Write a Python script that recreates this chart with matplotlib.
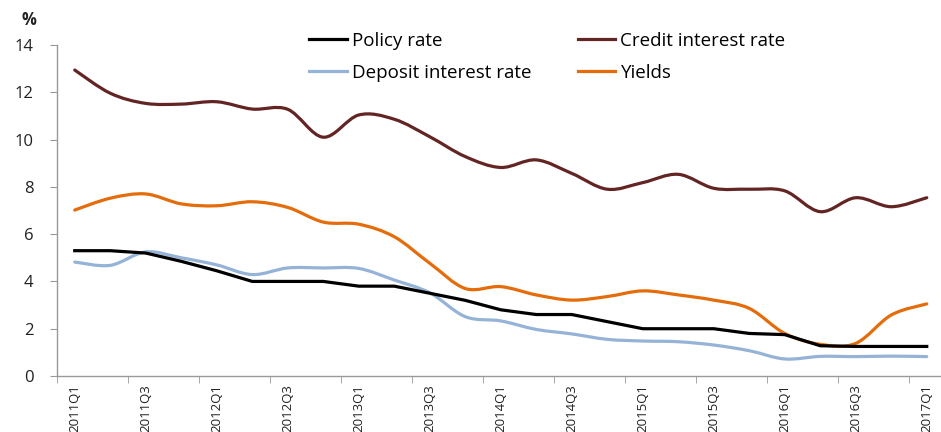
import matplotlib.pyplot as plt
from matplotlib.path import Path
from matplotlib.patches import PathPatch
from matplotlib.lines import Line2D
import numpy as np

quarters = [f"{y}Q{q}" for y in range(2011, 2018) for q in range(1, 5)][:25]

policy = [5.3, 5.3, 5.2, 4.85, 4.45, 4.0, 4.0, 4.0, 3.8, 3.8, 3.5, 3.2, 2.8,
          2.6, 2.6, 2.3, 2.0, 2.0, 2.0, 1.8, 1.75, 1.28, 1.25, 1.25, 1.25]
credit = [12.94, 11.96, 11.53, 11.5, 11.6, 11.29, 11.28, 10.1, 11.04, 10.86,
          10.12, 9.28, 8.82, 9.14, 8.57, 7.9, 8.18, 8.53, 7.94, 7.9, 7.83,
          6.95, 7.54, 7.16, 7.54]
deposit = [4.82, 4.68, 5.25, 5.0, 4.7, 4.29, 4.57, 4.57, 4.55, 4.06, 3.52,
           2.51, 2.33, 1.97, 1.78, 1.55, 1.48, 1.45, 1.31, 1.07, 0.72, 0.83,
           0.82, 0.84, 0.82]
yields = [7.02, 7.52, 7.7, 7.28, 7.2, 7.37, 7.13, 6.51, 6.42, 5.89, 4.77,
          3.7, 3.78, 3.43, 3.21, 3.36, 3.6, 3.43, 3.21, 2.86, 1.8, 1.34, 1.38,
          2.58, 3.05]

BLACK = "#000000"
MAROON = "#632523"
LIGHTBLUE = "#95B3D7"
ORANGE = "#E46C0A"


def smooth_path(vals):
    # excel-style smoothed line: cubic bezier between the points
    pts = np.column_stack([np.arange(len(vals)), vals])
    verts = [pts[0]]
    codes = [Path.MOVETO]
    n = len(pts)
    for i in range(n - 1):
        p0 = pts[max(i - 1, 0)]
        p1 = pts[i]
        p2 = pts[i + 1]
        p3 = pts[min(i + 2, n - 1)]
        verts += [p1 + (p2 - p0) / 6, p2 - (p3 - p1) / 6, p2]
        codes += [Path.CURVE4] * 3
    return Path(verts, codes)


plt.rcParams['font.family'] = ['Open Sans', 'DejaVu Sans']

fig = plt.figure(figsize=(9.41, 4.32), dpi=100)
ax = fig.add_axes([57 / 941, 56 / 432, 887.5 / 941, 331 / 432])

lw = 2.3
x = np.arange(len(quarters))
ax.plot(x, policy, color=BLACK, lw=lw, solid_joinstyle='round', zorder=4)
for vals, col, z in [(credit, MAROON, 3), (deposit, LIGHTBLUE, 2), (yields, ORANGE, 3)]:
    ax.add_patch(PathPatch(smooth_path(vals), fill=False, edgecolor=col,
                           lw=lw, capstyle='round', zorder=z))

ax.set_xlim(-0.5, len(quarters) - 0.5)
ax.set_ylim(0, 14)
ax.set_yticks(range(0, 15, 2))
ax.set_xticks(x[::2])
ax.set_xticklabels(quarters[::2], rotation=90, fontsize=9.5, color='#222222')
ax.set_xticks(np.arange(-0.5, len(quarters), 2), minor=True)
ax.tick_params(axis='x', which='major', length=0, pad=6)
ax.tick_params(axis='x', which='minor', length=5, color='#999999', direction='out')
ax.tick_params(axis='y', length=5, color='#999999', labelsize=12, pad=12,
               labelcolor='#222222')

for s in ['top', 'right']:
    ax.spines[s].set_visible(False)
for s in ['left', 'bottom']:
    ax.spines[s].set_color('#999999')
    ax.spines[s].set_linewidth(1)

fig.text(29 / 941, 1 - 20 / 432, "%", fontsize=12, fontweight='bold',
         ha='center', va='center', color='#222222')

handles = [Line2D([], [], color=BLACK, lw=lw),
           Line2D([], [], color=LIGHTBLUE, lw=lw),
           Line2D([], [], color=MAROON, lw=lw),
           Line2D([], [], color=ORANGE, lw=lw)]
labels = ["Policy rate", "Deposit interest rate", "Credit interest rate", "Yields"]
fig.legend(handles, labels, ncol=2, loc='upper left',
           bbox_to_anchor=(309 / 941, 1 - 32 / 432), frameon=False,
           fontsize=13.5, handlelength=2.0, handletextpad=0.27,
           columnspacing=2.5, labelspacing=0.72, borderaxespad=0, borderpad=0)

fig.savefig("out.png", dpi=100)
